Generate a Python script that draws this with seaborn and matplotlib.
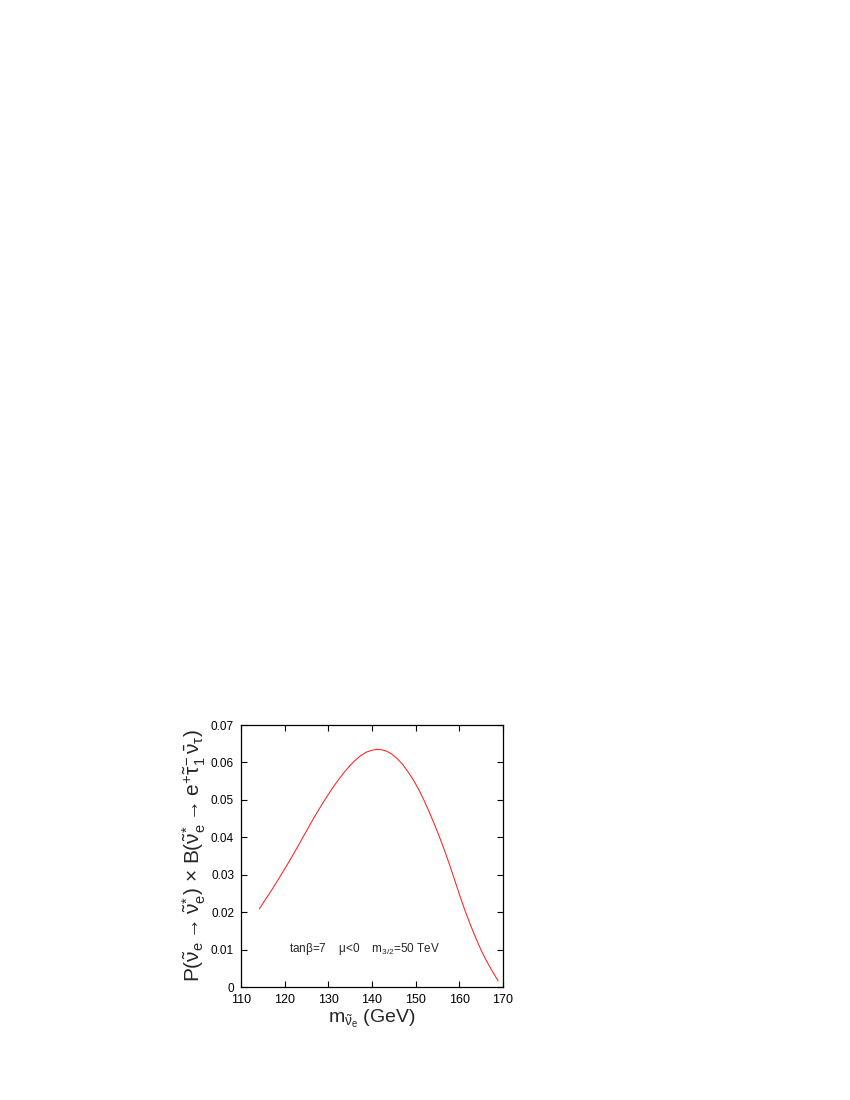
import matplotlib
matplotlib.use("Agg")
import matplotlib.pyplot as plt
import seaborn as sns
import pandas as pd

# Data
mass = [114.2, 115.6, 117.0, 118.4, 119.8, 121.1, 122.4, 123.6, 124.9, 126.1,
        127.4, 128.6, 129.9, 131.1, 132.4, 133.6, 134.9, 136.1, 137.4, 138.6,
        139.8, 141.0, 142.2, 143.4, 144.6, 145.8, 147.0, 148.2, 149.4, 150.6,
        151.8, 153.0, 154.2, 155.4, 156.6, 157.8, 159.0, 160.2, 161.4, 162.6,
        163.8, 165.0, 166.2, 167.4, 168.9]
prob = [0.0209, 0.0234, 0.0259, 0.0285, 0.0312, 0.0337, 0.0363, 0.0388, 0.0415, 0.0440,
        0.0466, 0.0489, 0.0513, 0.0534, 0.0555, 0.0573, 0.0591, 0.0605, 0.0618, 0.0627,
        0.0632, 0.0635, 0.0634, 0.0630, 0.0622, 0.0610, 0.0595, 0.0576, 0.0555, 0.0530,
        0.0502, 0.0471, 0.0438, 0.0403, 0.0366, 0.0326, 0.0284, 0.0242, 0.0202, 0.0165,
        0.0131, 0.0099, 0.0071, 0.0046, 0.0017]
xticks = [110, 120, 130, 140, 150, 160, 170]
yticks = [0, 0.01, 0.02, 0.03, 0.04, 0.05, 0.06, 0.07]
ytick_labels = ["0", "0.01", "0.02", "0.03", "0.04", "0.05", "0.06", "0.07"]

sns.set_style("ticks")
plt.rcParams["font.family"] = ["Liberation Sans", "DejaVu Sans"]
plt.rcParams["mathtext.fontset"] = "custom"
plt.rcParams["mathtext.rm"] = "Liberation Sans"
plt.rcParams["mathtext.it"] = "Liberation Sans"
plt.rcParams["mathtext.bf"] = "Liberation Sans:bold"

df = pd.DataFrame({"mass": mass, "prob": prob})

fig = plt.figure(figsize=(8.5, 11), dpi=100)
ax = fig.add_axes([0.2835, 0.1025, 0.3082, 0.2384])

sns.lineplot(data=df, x="mass", y="prob", ax=ax, color="#ff2020", linewidth=0.75)

ax.set_xlim(110, 170)
ax.set_ylim(0, 0.07)
ax.set_xticks(xticks)
ax.set_xticklabels([str(t) for t in xticks])
ax.set_yticks(yticks)
ax.set_yticklabels(ytick_labels)
ax.tick_params(direction="in", top=True, right=True, length=4, width=0.8,
               labelsize=8.5, pad=5, colors="black")
ax.tick_params(axis="x", labelsize=9)
for s in ax.spines.values():
    s.set_linewidth(0.9)
    s.set_color("black")

ax.set_xlabel(r"m$_{\tilde{\nu}_e}$ (GeV)", fontsize=14, labelpad=1)
ax.set_ylabel(r"P($\tilde{\nu}_e \rightarrow \tilde{\nu}_e^{*}$) $\times$ "
              r"B($\tilde{\nu}_e^{*} \rightarrow e^{+} \tilde{\tau}_1^{-}\, \bar{\nu}_{\tau}$)",
              fontsize=15, labelpad=2)

ax.text(121.1, 0.0101, r"tan$\beta$=7    $\mu$<0    m$_{3/2}$=50 TeV",
        fontsize=8.5, va="center", ha="left")

fig.savefig("out.png", dpi=100)
